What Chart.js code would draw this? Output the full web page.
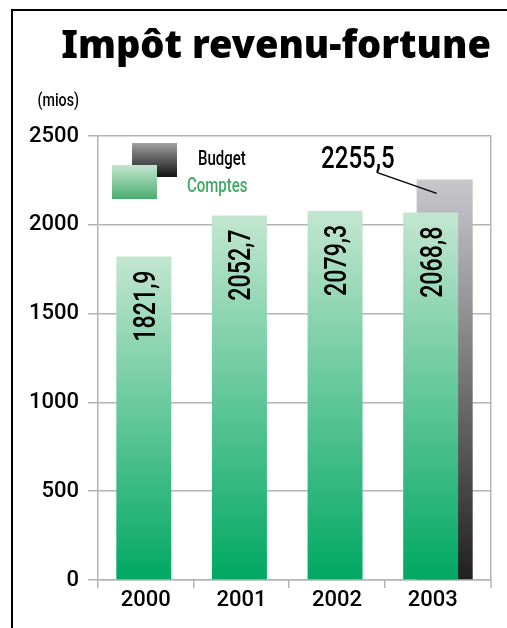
<!DOCTYPE html>
<html>
<head>
<meta charset="utf-8">
<script src="https://cdn.jsdelivr.net/npm/chart.js@4.4.1/dist/chart.umd.min.js"></script>
<style>
  html, body { margin: 0; padding: 0; background: #fff; overflow: hidden; }
  #wrap { position: relative; width: 507px; height: 628px; }
  #frame { position: absolute; left: 11px; top: 9px; width: 600px; height: 700px; border: 2px solid #000; pointer-events: none; }
  canvas { position: absolute; left: 0; top: 0; }
</style>
</head>
<body>
<div id="wrap">
  <div id="frame"></div>
  <canvas id="chart" width="507" height="628"></canvas>
</div>
<script>
const years = ['2000', '2001', '2002', '2003'];
const comptes = [1821.9, 2052.7, 2079.3, 2068.8];
const budget = [null, null, null, 2255.5];
const yMax = 2500;
const yStep = 500;

const FAMILY = 'Roboto, "Liberation Sans", sans-serif';
const GRID = '#b4b4b4';
const SQUEEZE = 0.75;   // no condensed face installed, so squeeze hand-drawn text

const fmt = v => v.toFixed(1).replace('.', ',');
const font = (size, weight) => (weight || 500) + ' ' + size + 'px ' + FAMILY;

function barGradient(top, bottom) {
  return (c) => {
    const chart = c.chart;
    const v = c.dataset.data[c.dataIndex];
    if (!chart.chartArea || v == null) return top;
    const y = chart.scales.y;
    const g = chart.ctx.createLinearGradient(0, y.getPixelForValue(v), 0, y.getPixelForValue(0));
    g.addColorStop(0, top);
    g.addColorStop(1, bottom);
    return g;
  };
}

function text(ctx, str, x, y, align, f, color) {
  ctx.save();
  ctx.translate(x, y);
  ctx.scale(SQUEEZE, 1);
  ctx.font = f;
  ctx.fillStyle = color;
  ctx.textAlign = align;
  ctx.textBaseline = 'alphabetic';
  ctx.fillText(str, 0, 0);
  ctx.restore();
}

// budget bar sits behind and a bit to the right of the comptes bar
const nudge = {
  id: 'nudge',
  afterDatasetsUpdate(chart) {
    chart.getDatasetMeta(0).data.forEach(el => { el.x -= 2; });
    chart.getDatasetMeta(1).data.forEach(el => { el.x += 12; });
  }
};

const labels = {
  id: 'labels',
  afterDatasetsDraw(chart) {
    const ctx = chart.ctx;
    chart.getDatasetMeta(0).data.forEach((bar, i) => {
      ctx.save();
      ctx.translate(bar.x, bar.y + 14);
      ctx.rotate(-Math.PI / 2);
      text(ctx, fmt(comptes[i]), 0, 11, 'right', font(31), '#000');
      ctx.restore();
    });

    // budget call-out
    const b = chart.getDatasetMeta(1).data[3];
    ctx.save();
    ctx.strokeStyle = '#000';
    ctx.lineWidth = 1.3;
    ctx.beginPath();
    ctx.moveTo(b.x - 68, b.y - 7);
    ctx.lineTo(b.x - 8, b.y + 14);
    ctx.stroke();
    ctx.restore();
    text(ctx, fmt(budget[3]), b.x - 50, b.y - 11, 'right', font(32), '#000');
  },
  afterDraw(chart) {
    const ctx = chart.ctx;
    const a = chart.chartArea;
    ctx.save();
    let g = ctx.createLinearGradient(0, a.top + 7, 0, a.top + 41);
    g.addColorStop(0, '#a0a0a0');
    g.addColorStop(1, '#141414');
    ctx.fillStyle = g;
    ctx.fillRect(a.left + 34, a.top + 7, 45, 34);
    g = ctx.createLinearGradient(0, a.top + 29, 0, a.top + 63);
    g.addColorStop(0, '#c3e6d0');
    g.addColorStop(1, '#4aad6e');
    ctx.fillStyle = g;
    ctx.fillRect(a.left + 14, a.top + 29, 45, 34);

    // right frame edge runs a little below the axis, like the ticks
    ctx.strokeStyle = GRID;
    ctx.lineWidth = 1.5;
    ctx.beginPath();
    ctx.moveTo(a.right, a.bottom);
    ctx.lineTo(a.right, a.bottom + 8);
    ctx.stroke();
    ctx.restore();

    text(ctx, 'Budget', a.left + 100, a.top + 29, 'left', font(20), '#000');
    text(ctx, 'Comptes', a.left + 89, a.top + 56, 'left', font(20), '#3fa864');
    text(ctx, '(mios)', a.left - 19, a.top - 30, 'right', font(19), '#000');
  }
};

new Chart(document.getElementById('chart'), {
  type: 'bar',
  data: {
    labels: years,
    datasets: [
      {
        label: 'Comptes',
        data: comptes,
        backgroundColor: barGradient('#c3e6d0', '#00a862'),
        barPercentage: 0.575,
        categoryPercentage: 1
      },
      {
        label: 'Budget',
        data: budget,
        backgroundColor: barGradient('#c8c8cc', '#221f21'),
        barPercentage: 0.586,
        categoryPercentage: 1
      }
    ]
  },
  options: {
    responsive: false,
    animation: false,
    events: [],
    layout: { padding: { left: 20, right: 16, top: 18, bottom: 0 } },
    datasets: { bar: { grouped: false } },
    plugins: {
      legend: { display: false },
      tooltip: { enabled: false },
      title: {
        display: true,
        text: 'Impôt revenu-fortune',
        align: 'end',
        color: '#000',
        font: { family: '"Noto Sans", "DejaVu Sans", sans-serif', weight: 900, size: 38, lineHeight: 1 },
        padding: { top: 10, bottom: 70 }
      }
    },
    scales: {
      x: {
        grid: {
          drawOnChartArea: false,
          tickLength: 8,
          lineWidth: 1.5,
          color: c => (c.index === undefined ? 'rgba(0,0,0,0)' : GRID)
        },
        border: { color: GRID, width: 1.5 },
        ticks: { color: '#000', font: { family: FAMILY, weight: 500, size: 22 }, padding: -1 },
        afterBuildTicks: s => { s._valueRange = years.length + 0.11; },
        afterFit: s => { s.height = 48; }
      },
      y: {
        min: 0,
        max: yMax,
        grid: { color: GRID, lineWidth: 1.5, tickLength: 10 },
        border: { color: GRID, width: 1.5 },
        ticks: {
          stepSize: yStep,
          color: '#000',
          font: { family: FAMILY, weight: 500, size: 22 },
          padding: 9,
          callback: v => String(v)
        },
        afterFit: s => { s.width = 78; }
      },
      y2: {
        position: 'right',
        min: 0,
        max: yMax,
        grid: { drawOnChartArea: false, drawTicks: false },
        border: { color: GRID, width: 1.5 },
        ticks: { display: false },
        afterFit: s => { s.width = 0; }
      }
    }
  },
  plugins: [nudge, labels]
});
</script>
</body>
</html>
